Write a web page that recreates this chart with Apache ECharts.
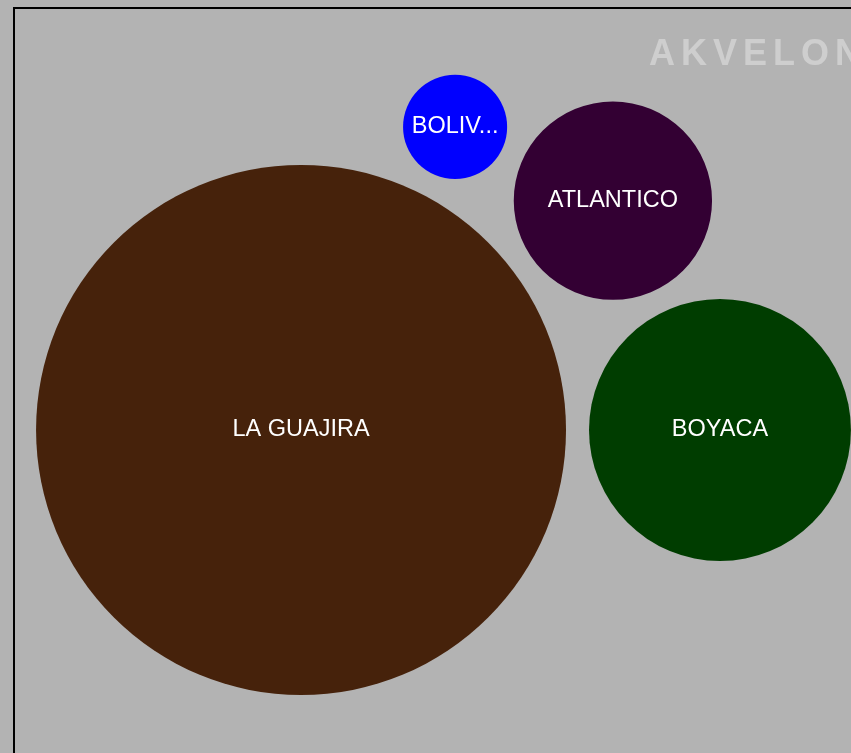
<!DOCTYPE html>
<html>
<head>
<meta charset="utf-8">
<script src="https://cdn.jsdelivr.net/npm/echarts@6/dist/echarts.min.js"></script>
<style>
  html, body {
    margin: 0;
    padding: 0;
    width: 851px;
    height: 753px;
    overflow: hidden;
    background: #b3b3b3;
  }
  .frame {
    position: absolute;
    left: 13px;
    top: 7px;
    width: 2000px;
    height: 2000px;
    border-left: 2px solid #000;
    border-top: 2px solid #000;
  }
  .charts {
    position: absolute;
    left: 15px;
    top: 9px;
    width: 857px;
    height: 842px;
  }
  .logo {
    position: absolute;
    left: 649px;
    top: 35px;
    font: bold 36px "Liberation Sans", Arial, sans-serif;
    line-height: 1;
    letter-spacing: 6px;
    color: #cecece;
    white-space: nowrap;
  }
</style>
</head>
<body>
<div class="frame"></div>
<div class="charts" id="charts"></div>
<div class="logo">AKVELON</div>

<script>
// departments and their values (bubble area ~ value)
let names = ['LA GUAJIRA', 'BOYACA', 'ATLANTICO', 'BOLIVAR'];
let values = [7000, 1710, 980, 270];
let colors = ['#46220b', '#003d00', '#330033', '#0000ff'];

let dom = document.getElementById('charts');
let W = dom.clientWidth;
let H = dom.clientHeight;

// simple sibling packing (like d3.pack), padding between circles
let k = 3.167;
let pad = 11.5;
let nodes = values.map(function (v, i) {
  return { name: names[i], value: v, color: colors[i], r: Math.sqrt(v) * k, x: 0, y: 0 };
});

function place(a, b, c, sign) {
  let ra = a.r + c.r + 2 * pad;
  let rb = b.r + c.r + 2 * pad;
  let dx = b.x - a.x, dy = b.y - a.y;
  let d = Math.sqrt(dx * dx + dy * dy);
  let ux = dx / d, uy = dy / d;
  let x = (d * d + ra * ra - rb * rb) / (2 * d);
  let h = Math.sqrt(Math.max(0, ra * ra - x * x));
  return { x: a.x + ux * x - sign * uy * h, y: a.y + uy * x + sign * ux * h };
}
function overlaps(p, others) {
  return others.some(function (o) {
    let dx = p.x - o.x, dy = p.y - o.y;
    return Math.sqrt(dx * dx + dy * dy) < p.r + o.r + 2 * pad - 0.5;
  });
}

let A = nodes[0], B = nodes[1], C = nodes[2], D = nodes[3];
A.x = 0; A.y = 0;
B.x = A.r + B.r + 2 * pad; B.y = 0;
let pc = place(A, B, C, 1);
C.x = pc.x; C.y = pc.y;
// fourth circle sits between the largest one and the third
[1, -1].some(function (s) {
  let p = place(A, C, D, s);
  p.r = D.r;
  if (!overlaps(p, [B])) {
    D.x = p.x; D.y = p.y;
    return true;
  }
  return false;
});
// smaller circles go on top (screen coords)
if (C.y > 0) nodes.forEach(function (n) { n.y = -n.y; });

// enclosing circle of the two biggest holds all -> center it in the box
let left = A.x - A.r, right = B.x + B.r;
let ex = (left + right) / 2, ey = 0;
let data = nodes.map(function (n) {
  return [n.x - ex + W / 2, n.y - ey + H / 2, n.r, n.name, n.color];
});

let myecharts = echarts.init(dom);
myecharts.setOption({
  backgroundColor: 'transparent',
  animation: false,
  grid: { left: 0, right: 0, top: 0, bottom: 0 },
  xAxis: { type: 'value', min: 0, max: W, show: false },
  yAxis: { type: 'value', min: 0, max: H, inverse: true, show: false },
  series: [
    {
      type: 'custom',
      data: data,
      renderItem: function (params, api) {
        let c = api.coord([api.value(0), api.value(1)]);
        let r = api.size([api.value(2), 0])[0];
        let d = data[params.dataIndex];
        return {
          type: 'circle',
          shape: { cx: c[0], cy: c[1], r: r },
          style: { fill: d[4] },
          textContent: {
            style: {
              text: d[3],
              fill: '#ffffff',
              fontSize: 23.5,
              fontFamily: '"Liberation Sans", Arial, sans-serif',
              width: r * 1.8,
              overflow: 'truncate',
              ellipsis: '...'
            }
          },
          textConfig: { position: 'inside' }
        };
      }
    }
  ]
});
</script>
</body>
</html>
